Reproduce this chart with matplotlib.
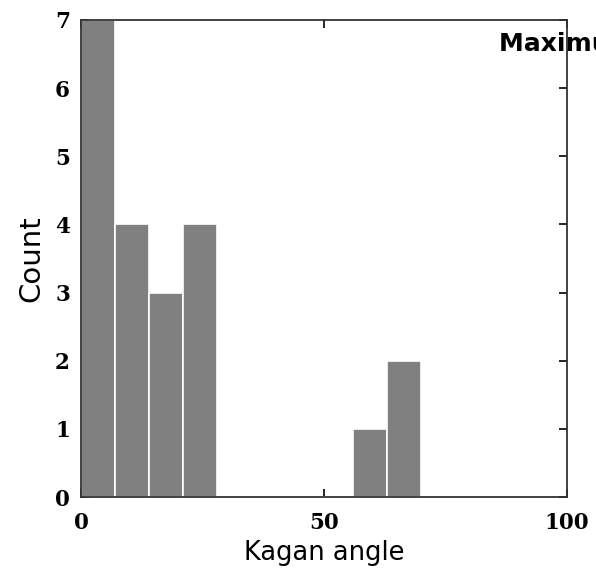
import matplotlib
matplotlib.use("Agg")
import matplotlib.pyplot as plt

bin_edges = [0, 7, 14, 21, 28, 35, 42, 49, 56, 63, 70]
counts = [7, 4, 3, 4, 0, 0, 0, 0, 1, 2]
x_ticks = [0, 50, 100]
y_ticks = [0, 1, 2, 3, 4, 5, 6, 7]

fig = plt.figure(figsize=(5.96, 5.69), dpi=100)
ax = fig.add_axes([81/596, 1 - 497/569, (567-81)/596, (497-20)/569])
ax.set_zorder(1)
ax.patch.set_alpha(0)

lefts = bin_edges[:-1]
widths = [b - a for a, b in zip(bin_edges[:-1], bin_edges[1:])]
ax.bar(lefts, counts, width=widths, align='edge', color='#808080',
       edgecolor='white', linewidth=1.2, zorder=2)

ax.set_xlim(0, 100)
ax.set_ylim(0, 7)
ax.set_xticks(x_ticks)
ax.set_yticks(y_ticks)
ax.tick_params(direction='in', length=6, width=1.2, top=True, right=True,
               labelsize=15.5)
ax.tick_params(axis='x', pad=11)
ax.tick_params(axis='y', pad=8)
for lab in ax.get_xticklabels() + ax.get_yticklabels():
    lab.set_fontfamily('DejaVu Serif')
    lab.set_fontweight('bold')
for s in ax.spines.values():
    s.set_linewidth(1.3)
    s.set_color('#333333')
    s.set_zorder(3)

ax.set_xlabel('Kagan angle', fontsize=18.5, fontfamily='DejaVu Sans', labelpad=4)
ax.set_ylabel('Count', fontsize=21, fontfamily='DejaVu Sans', labelpad=7)

fig.text(499/596, 1 - 44/569, 'Maximum likelihood', fontsize=18,
         fontfamily='DejaVu Sans', fontweight='bold', ha='left', va='center',
         zorder=0)

fig.savefig('out.png', dpi=100)
